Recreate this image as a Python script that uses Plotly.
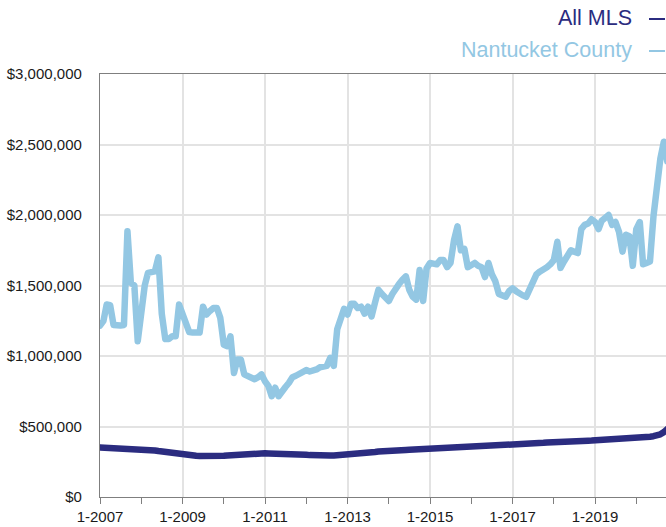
import pandas as pd
import plotly.graph_objects as go

# Monthly median sale price, Jan 2007 – Oct 2020
months = pd.date_range("2007-01-01", "2020-10-01", freq="MS")

nantucket_county = [
    1216000, 1250000, 1365000, 1360000, 1220000, 1216000, 1216000, 1220000, 1885000, 1520000, 1500000, 1105000,
    1350000, 1500000, 1590000, 1600000, 1600000, 1700000, 1300000, 1120000, 1120000, 1140000, 1140000, 1365000,
    1300000, 1240000, 1170000, 1166000, 1166000, 1166000, 1350000, 1294000, 1320000, 1340000, 1340000, 1270000,
    1080000, 1070000, 1140000, 880000, 975000, 975000, 870000, 860000, 840000, 835000, 850000, 870000,
    820000, 786000, 715000, 775000, 715000, 740000, 780000, 810000, 850000, 860000, 875000, 885000,
    900000, 890000, 895000, 905000, 920000, 930000, 930000, 987000, 930000, 1190000, 1260000, 1335000,
    1294000, 1370000, 1370000, 1340000, 1350000, 1300000, 1350000, 1280000, 1380000, 1470000, 1440000, 1410000,
    1390000, 1440000, 1480000, 1510000, 1540000, 1565000, 1470000, 1420000, 1400000, 1610000, 1390000, 1620000,
    1660000, 1660000, 1650000, 1680000, 1680000, 1630000, 1660000, 1820000, 1920000, 1750000, 1760000, 1630000,
    1650000, 1660000, 1640000, 1630000, 1560000, 1660000, 1580000, 1530000, 1440000, 1430000, 1420000, 1460000,
    1480000, 1460000, 1440000, 1430000, 1420000, 1470000, 1530000, 1580000, 1600000, 1610000, 1630000, 1650000,
    1680000, 1810000, 1625000, 1670000, 1720000, 1750000, 1740000, 1730000, 1900000, 1930000, 1940000, 1970000,
    1950000, 1900000, 1960000, 1980000, 2000000, 1930000, 1950000, 1880000, 1740000, 1860000, 1850000, 1640000,
    1900000, 1950000, 1650000, 1660000, 1670000, 1990000, 2200000, 2400000, 2520000, 2380000,
]

all_mls = [
    352000, 351000, 350000, 350000, 349000, 349000, 348000, 348000, 347000, 347000, 346000, 345000,
    344000, 341000, 338000, 334000, 330000, 326000, 322000, 318000, 315000, 312000, 309000, 306000,
    302000, 299000, 296000, 294000, 292000, 291000, 290000, 290000, 289000, 290000, 291000, 292000,
    293000, 295000, 297000, 299000, 301000, 303000, 305000, 306000, 307000, 308000, 309000, 310000,
    310000, 309000, 309000, 308000, 308000, 307000, 306000, 305000, 304000, 303000, 302000, 301000,
    299000, 297000, 295000, 294000, 293000, 293000, 293000, 294000, 295000, 296000, 297000, 298000,
    300000, 302000, 304000, 306000, 308000, 310000, 313000, 316000, 319000, 322000, 325000, 327000,
    329000, 330000, 331000, 332000, 333000, 334000, 335000, 336000, 337000, 338000, 339000, 340000,
    341000, 342000, 343000, 344000, 345000, 346000, 347000, 348000, 349000, 350000, 351000, 352000,
    352000, 353000, 354000, 355000, 356000, 357000, 358000, 359000, 360000, 361000, 362000, 363000,
    364000, 366000, 368000, 370000, 372000, 374000, 376000, 379000, 381000, 384000, 386000, 388000,
    389000, 390000, 391000, 392000, 393000, 394000, 395000, 396000, 397000, 398000, 399000, 400000,
    401000, 402000, 403000, 405000, 406000, 408000, 409000, 411000, 412000, 414000, 415000, 417000,
    419000, 421000, 423000, 425000, 428000, 431000, 436000, 445000, 460000, 482000,
]

x_tick_vals = ["2007-01-01", "2009-01-01", "2011-01-01", "2013-01-01", "2015-01-01", "2017-01-01", "2019-01-01"]
x_tick_text = ["1-2007", "1-2009", "1-2011", "1-2013", "1-2015", "1-2017", "1-2019"]
x_minor_vals = ["2008-01-01", "2010-01-01", "2012-01-01", "2014-01-01", "2016-01-01", "2018-01-01", "2020-01-01"]

y_tick_vals = [0, 500000, 1000000, 1500000, 2000000, 2500000, 3000000]
y_tick_text = ["$0", "$500,000", "$1,000,000", "$1,500,000", "$2,000,000", "$2,500,000", "$3,000,000"]

series_names = ["All MLS", "Nantucket County"]

NAVY = "#2b2c80"
SKY = "#93c7e3"
GRID = "#e3e3e3"
AXIS = "#7f7f7f"
FONT = "Liberation Sans, Arial, sans-serif"

W, H = 666, 527
M_L, M_R, M_T, M_B = 100, 0, 74, 30
plot_w = W - M_L - M_R
plot_h = H - M_T - M_B


def px_x(px):
    return (px - M_L) / plot_w


def px_y(py):
    return 1 + (M_T - py) / plot_h


fig = go.Figure()
fig.add_trace(go.Scatter(x=months, y=nantucket_county, mode="lines",
                         line=dict(color=SKY, width=6.5), name=series_names[1]))
fig.add_trace(go.Scatter(x=months, y=all_mls, mode="lines",
                         line=dict(color=NAVY, width=6.5), name=series_names[0]))

fig.update_layout(
    width=W, height=H,
    margin=dict(l=M_L, r=M_R, t=M_T, b=M_B),
    paper_bgcolor="white", plot_bgcolor="white",
    showlegend=False,
    font=dict(family=FONT, size=15, color="#1a1a1a"),
    xaxis=dict(
        range=["2007-01-01", "2020-09-20"],
        tickmode="array", tickvals=x_tick_vals, ticktext=x_tick_text,
        showgrid=True, gridcolor=GRID, gridwidth=1.5,
        showline=True, linecolor=AXIS, linewidth=1.3, mirror=True,
        ticks="outside", ticklen=6, tickcolor=AXIS, tickwidth=1,
        minor=dict(tickmode="array", tickvals=x_minor_vals, ticks="outside",
                   ticklen=6, tickcolor=AXIS, tickwidth=1, showgrid=False),
        tickfont=dict(size=15, color="#1a1a1a"),
        zeroline=False,
    ),
    yaxis=dict(
        range=[0, 3000000],
        tickmode="array", tickvals=y_tick_vals, ticktext=y_tick_text,
        showgrid=True, gridcolor=GRID, gridwidth=1.5,
        showline=True, linecolor=AXIS, linewidth=1.3,
        ticks="", ticklabelstandoff=14,
        tickfont=dict(size=15, color="#1a1a1a"),
        zeroline=False,
    ),
)

# Legend: right-aligned series names, each followed by a short dash swatch
for name, color, cy in [(series_names[0], NAVY, 18), (series_names[1], SKY, 50)]:
    fig.add_annotation(text=name, x=px_x(634), xref="paper", xanchor="right",
                       y=px_y(cy), yref="paper", yanchor="middle", showarrow=False,
                       font=dict(family=FONT, size=21.5, color=color))
    fig.add_shape(type="line", xref="paper", yref="paper",
                  x0=px_x(649), x1=px_x(665), y0=px_y(cy + 1), y1=px_y(cy + 1),
                  line=dict(color=color, width=2))

fig.write_html(
    "out.html",
    post_script="document.querySelectorAll('.scatterlayer path.js-line').forEach(function(p){"
                "p.style.strokeLinejoin='round';p.style.strokeLinecap='round';});",
)
